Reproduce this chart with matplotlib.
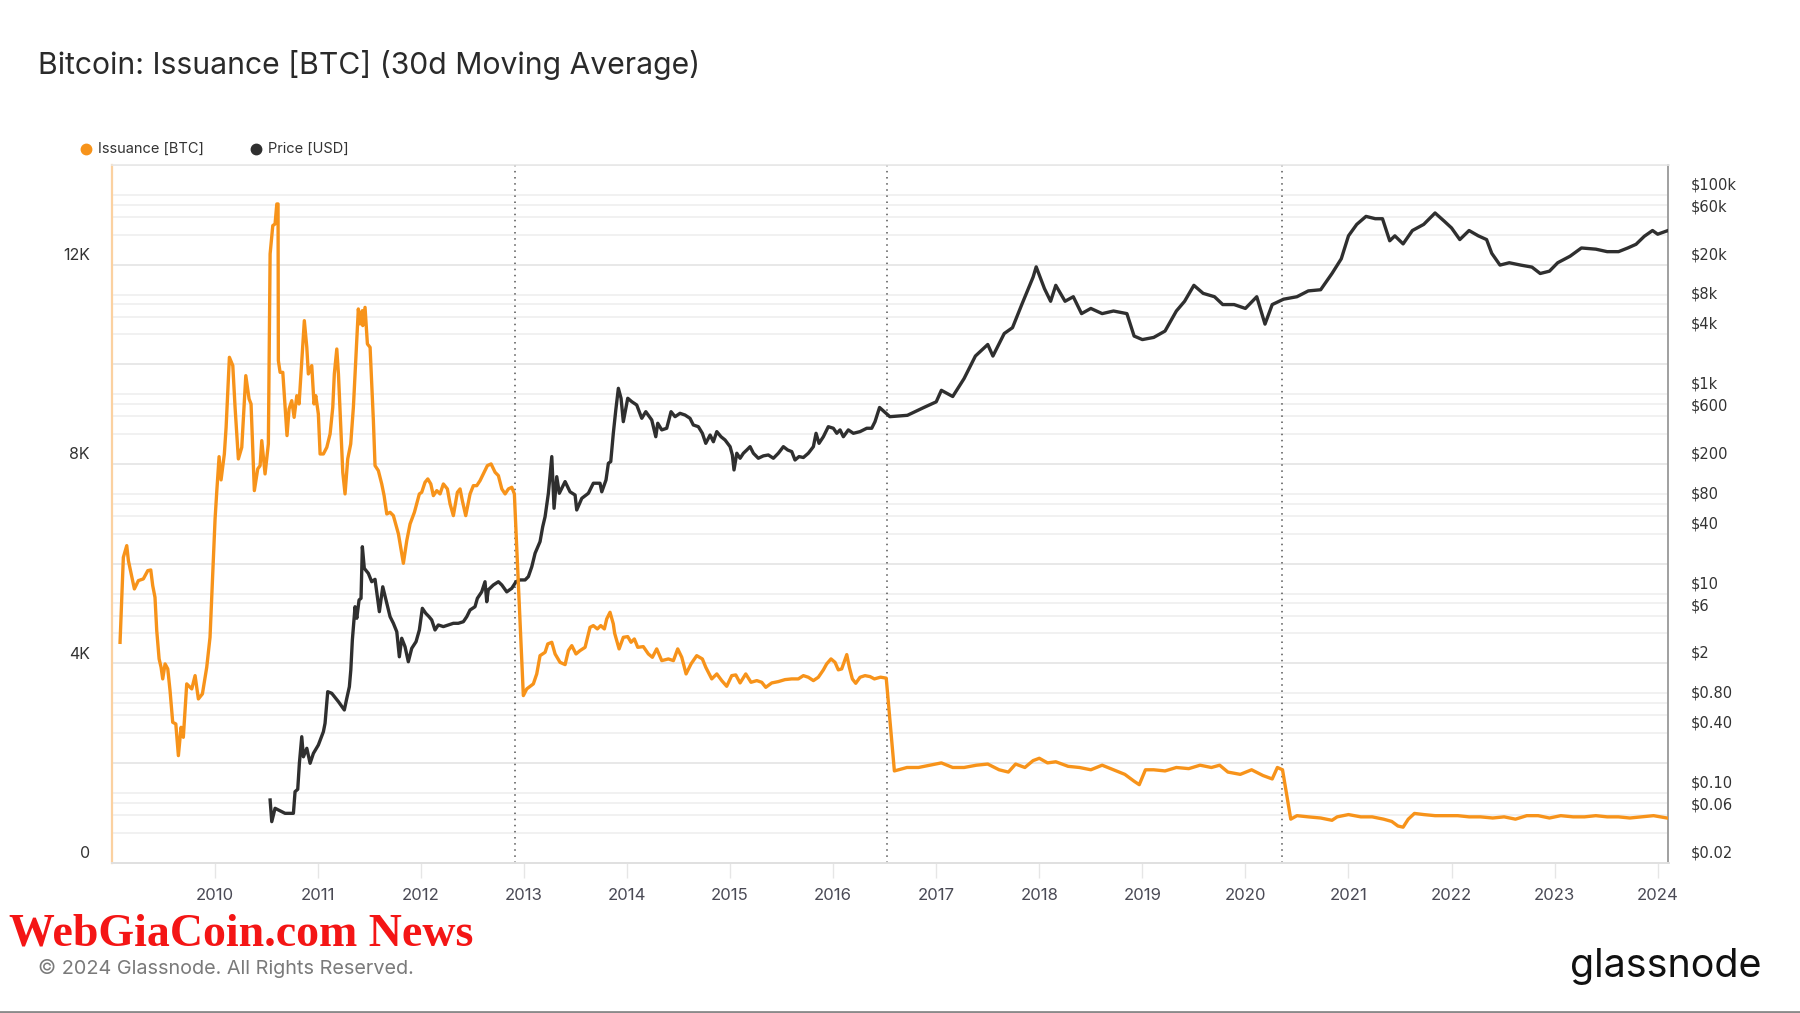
import matplotlib
matplotlib.use("Agg")
import matplotlib.pyplot as plt
import matplotlib.transforms as mtransforms
from matplotlib import font_manager
from matplotlib.lines import Line2D
import numpy as np
import pandas as pd

plt.rcParams["font.family"] = ["Inter", "DejaVu Sans"]

# ---- data (decimal years) ----
ISSUANCE_T = [
    2009.081, 2009.113, 2009.146, 2009.162, 2009.22, 2009.259, 2009.307, 2009.35, 2009.379, 2009.398,
    2009.42, 2009.437, 2009.46, 2009.479, 2009.495, 2009.518, 2009.544, 2009.566, 2009.592, 2009.622,
    2009.647, 2009.673, 2009.695, 2009.728, 2009.777, 2009.809, 2009.841, 2009.88, 2009.922, 2009.954,
    2009.986, 2010.003, 2010.02, 2010.042, 2010.061, 2010.093, 2010.11, 2010.142, 2010.175, 2010.197,
    2010.229, 2010.262, 2010.301, 2010.333, 2010.352, 2010.384, 2010.417, 2010.44, 2010.456, 2010.488,
    2010.52, 2010.537, 2010.563, 2010.585, 2010.602, 2010.614, 2010.617, 2010.634, 2010.66, 2010.682,
    2010.701, 2010.721, 2010.747, 2010.77, 2010.796, 2010.818, 2010.844, 2010.869, 2010.893, 2010.908,
    2010.941, 2010.963, 2010.98, 2011.005, 2011.022, 2011.054, 2011.087, 2011.119, 2011.145, 2011.16,
    2011.184, 2011.2, 2011.225, 2011.242, 2011.264, 2011.29, 2011.319, 2011.345, 2011.361, 2011.393,
    2011.41, 2011.432, 2011.436, 2011.458, 2011.481, 2011.507, 2011.539, 2011.555, 2011.587, 2011.62,
    2011.643, 2011.669, 2011.701, 2011.733, 2011.782, 2011.83, 2011.863, 2011.895, 2011.937, 2011.985,
    2012.008, 2012.04, 2012.067, 2012.096, 2012.121, 2012.154, 2012.186, 2012.218, 2012.257, 2012.283,
    2012.315, 2012.354, 2012.38, 2012.402, 2012.435, 2012.477, 2012.509, 2012.542, 2012.574, 2012.606,
    2012.645, 2012.681, 2012.72, 2012.752, 2012.785, 2012.817, 2012.849, 2012.882, 2012.907, 2012.914,
    2012.994, 2013.027, 2013.091, 2013.124, 2013.156, 2013.205, 2013.231, 2013.27, 2013.302, 2013.35,
    2013.399, 2013.431, 2013.464, 2013.505, 2013.544, 2013.593, 2013.641, 2013.673, 2013.712, 2013.745,
    2013.78, 2013.803, 2013.835, 2013.867, 2013.88, 2013.923, 2013.964, 2014.007, 2014.039, 2014.071,
    2014.104, 2014.158, 2014.207, 2014.246, 2014.288, 2014.337, 2014.401, 2014.45, 2014.492, 2014.531,
    2014.573, 2014.621, 2014.676, 2014.731, 2014.764, 2014.822, 2014.871, 2014.919, 2014.967, 2015.016,
    2015.055, 2015.097, 2015.152, 2015.203, 2015.259, 2015.307, 2015.346, 2015.404, 2015.468, 2015.533,
    2015.598, 2015.662, 2015.711, 2015.759, 2015.808, 2015.856, 2015.905, 2015.937, 2015.979, 2016.018,
    2016.05, 2016.083, 2016.132, 2016.157, 2016.186, 2016.219, 2016.261, 2016.309, 2016.358, 2016.4,
    2016.46, 2016.515, 2016.594, 2016.716, 2016.828, 2016.94, 2017.05, 2017.16, 2017.27, 2017.39,
    2017.5, 2017.61, 2017.7, 2017.77, 2017.86, 2017.94, 2018.0, 2018.08, 2018.16, 2018.28,
    2018.39, 2018.5, 2018.61, 2018.72, 2018.83, 2018.92, 2018.97, 2019.03, 2019.11, 2019.22,
    2019.33, 2019.45, 2019.56, 2019.67, 2019.75, 2019.83, 2019.95, 2020.06, 2020.17, 2020.26,
    2020.31, 2020.36, 2020.44, 2020.5, 2020.61, 2020.73, 2020.84, 2020.89, 2021.0, 2021.12,
    2021.23, 2021.34, 2021.42, 2021.48, 2021.53, 2021.58, 2021.64, 2021.73, 2021.84, 2021.95,
    2022.06, 2022.17, 2022.28, 2022.4, 2022.51, 2022.62, 2022.73, 2022.84, 2022.95, 2023.06,
    2023.18, 2023.29, 2023.4, 2023.51, 2023.62, 2023.73, 2023.84, 2023.96, 2024.09,
]
ISSUANCE_BTC = [
    4419, 6125, 6360, 6059, 5491, 5658, 5692, 5858, 5872, 5557,
    5323, 4654, 4086, 3918, 3685, 3986, 3886, 3450, 2814, 2781,
    2145, 2714, 2513, 3585, 3484, 3751, 3283, 3384, 3918, 4520,
    6059, 6896, 7464, 8146, 7679, 8200, 8734, 10140, 9973, 9136,
    8100, 8333, 9772, 9305, 9204, 7464, 7900, 7966, 8468, 7799,
    8401, 12215, 12783, 12817, 13218, 13218, 10073, 9838, 9838, 9170,
    8568, 9103, 9270, 8935, 9370, 9204, 10073, 10876, 10340, 9806,
    9973, 9204, 9370, 9003, 8200, 8200, 8333, 8602, 9136, 9806,
    10307, 9806, 8602, 7832, 7398, 8100, 8401, 9136, 9806, 11111,
    10810, 11077, 10776, 11143, 10408, 10340, 8869, 7966, 7866, 7598,
    7364, 6996, 7029, 6962, 6595, 6005, 6461, 6796, 7029, 7398,
    7430, 7631, 7699, 7598, 7364, 7464, 7398, 7598, 7498, 7197,
    6962, 7430, 7498, 7263, 6962, 7398, 7564, 7564, 7665, 7799,
    7966, 8000, 7832, 7765, 7498, 7398, 7498, 7531, 7398, 7063,
    3350, 3484, 3585, 3785, 4152, 4219, 4387, 4420, 4186, 4018,
    3972, 4253, 4353, 4186, 4253, 4319, 4720, 4755, 4688, 4755,
    4688, 4889, 5022, 4789, 4600, 4287, 4520, 4534, 4420, 4487,
    4319, 4333, 4186, 4119, 4287, 4052, 4086, 4052, 4287, 4119,
    3785, 3986, 4152, 4086, 3918, 3685, 3785, 3651, 3537, 3751,
    3765, 3604, 3785, 3617, 3651, 3617, 3516, 3604, 3631, 3671,
    3685, 3685, 3751, 3718, 3651, 3718, 3866, 3986, 4086, 4018,
    3866, 3886, 4173, 3918, 3685, 3597, 3718, 3751, 3731, 3685,
    3720, 3700, 1838, 1907, 1907, 1953, 1999, 1907, 1907, 1953,
    1976, 1861, 1815, 1976, 1907, 2045, 2092, 1999, 2022, 1930,
    1907, 1861, 1953, 1861, 1769, 1631, 1562, 1861, 1861, 1838,
    1907, 1884, 1953, 1907, 1953, 1815, 1769, 1861, 1746, 1677,
    1907, 1861, 870, 940, 916, 893, 847, 916, 962, 916,
    916, 870, 824, 732, 709, 870, 985, 962, 940, 940,
    940, 916, 916, 893, 916, 870, 940, 940, 893, 940,
    916, 916, 940, 916, 916, 893, 916, 940, 893,
]

PRICE_T = [
    2010.537, 2010.553, 2010.585, 2010.617, 2010.682, 2010.763, 2010.779, 2010.805, 2010.821, 2010.844,
    2010.86, 2010.893, 2010.925, 2010.957, 2011.005, 2011.054, 2011.07, 2011.096, 2011.135, 2011.2,
    2011.257, 2011.281, 2011.306, 2011.32, 2011.335, 2011.361, 2011.378, 2011.4, 2011.419, 2011.432,
    2011.451, 2011.49, 2011.523, 2011.555, 2011.597, 2011.63, 2011.669, 2011.701, 2011.733, 2011.766,
    2011.791, 2011.814, 2011.846, 2011.878, 2011.911, 2011.953, 2011.985, 2012.014, 2012.047, 2012.079,
    2012.105, 2012.137, 2012.169, 2012.218, 2012.266, 2012.315, 2012.363, 2012.412, 2012.445, 2012.477,
    2012.525, 2012.548, 2012.59, 2012.622, 2012.639, 2012.654, 2012.703, 2012.752, 2012.785, 2012.833,
    2012.882, 2012.923, 2012.962, 2013.011, 2013.043, 2013.076, 2013.108, 2013.156, 2013.182, 2013.205,
    2013.237, 2013.27, 2013.292, 2013.318, 2013.343, 2013.399, 2013.447, 2013.496, 2013.512, 2013.561,
    2013.625, 2013.673, 2013.738, 2013.755, 2013.796, 2013.819, 2013.842, 2013.867, 2013.891, 2013.916,
    2013.942, 2013.964, 2014.007, 2014.046, 2014.094, 2014.143, 2014.182, 2014.24, 2014.279, 2014.298,
    2014.337, 2014.385, 2014.427, 2014.466, 2014.514, 2014.563, 2014.611, 2014.643, 2014.692, 2014.731,
    2014.764, 2014.806, 2014.838, 2014.871, 2014.912, 2014.951, 2015.0, 2015.022, 2015.038, 2015.065,
    2015.097, 2015.129, 2015.162, 2015.194, 2015.226, 2015.274, 2015.323, 2015.371, 2015.42, 2015.468,
    2015.517, 2015.559, 2015.598, 2015.63, 2015.669, 2015.711, 2015.759, 2015.808, 2015.834, 2015.863,
    2015.905, 2015.953, 2016.002, 2016.035, 2016.067, 2016.099, 2016.147, 2016.196, 2016.261, 2016.326,
    2016.374, 2016.406, 2016.45, 2016.55, 2016.72, 2016.88, 2017.0, 2017.05, 2017.16, 2017.27,
    2017.38, 2017.5, 2017.55, 2017.66, 2017.74, 2017.83, 2017.94, 2017.97, 2018.05, 2018.11,
    2018.16, 2018.25, 2018.33, 2018.41, 2018.5, 2018.61, 2018.72, 2018.85, 2018.92, 2019.0,
    2019.11, 2019.22, 2019.33, 2019.41, 2019.5, 2019.59, 2019.7, 2019.78, 2019.89, 2020.0,
    2020.11, 2020.19, 2020.26, 2020.37, 2020.5, 2020.61, 2020.73, 2020.84, 2020.93, 2021.0,
    2021.08, 2021.17, 2021.26, 2021.33, 2021.4, 2021.45, 2021.53, 2021.62, 2021.73, 2021.84,
    2021.93, 2022.0, 2022.08, 2022.17, 2022.26, 2022.34, 2022.39, 2022.47, 2022.56, 2022.67,
    2022.78, 2022.86, 2022.95, 2023.03, 2023.15, 2023.26, 2023.4, 2023.51, 2023.62, 2023.71,
    2023.79, 2023.87, 2023.95, 2024.0, 2024.1,
]
PRICE_USD = [
    0.0848, 0.0514, 0.07, 0.0673, 0.0623, 0.0623, 0.1027, 0.1086, 0.198, 0.366,
    0.23, 0.28, 0.198, 0.249, 0.302, 0.411, 0.499, 1.036, 0.998, 0.822,
    0.679, 0.889, 1.162, 1.71, 3.42, 7.38, 5.65, 8.62, 8.96, 29.5,
    17.9, 15.96, 13.15, 13.9, 6.58, 11.7, 7.98, 5.86, 5.03, 4.14,
    2.32, 3.56, 2.93, 2.07, 2.82, 3.29, 4.31, 7.11, 6.34, 5.86,
    5.43, 4.31, 4.84, 4.66, 4.84, 5.03, 5.03, 5.22, 5.86, 6.84,
    7.38, 8.96, 10.4, 13.15, 8.28, 10.9, 12.2, 13.15, 12.2, 10.4,
    11.3, 13.15, 13.7, 13.7, 14.8, 18.6, 25.4, 33.2, 46.9, 59.1,
    101.5, 237, 71.8, 149, 101.5, 133, 105, 97.5, 69, 90.3,
    101.5, 128, 128, 105, 138, 203, 211, 406, 695, 1148,
    912, 531, 912, 843, 781, 574, 669, 552, 375, 512,
    439, 456, 669, 596, 644, 619, 574, 492, 473, 406,
    322, 390, 334, 422, 375, 348, 298, 246, 174, 256,
    228, 256, 276, 298, 256, 228, 241, 246, 228, 256,
    298, 276, 266, 219, 237, 232, 256, 298, 406, 322,
    375, 473, 456, 406, 439, 375, 439, 406, 422, 456,
    456, 531, 737, 596, 615, 737, 840, 1096, 950, 1437,
    2420, 3160, 2420, 4074, 4660, 7950, 15000, 19000, 11500, 8580,
    12400, 8580, 9530, 6450, 7270, 6450, 6850, 6450, 3840, 3540,
    3720, 4310, 6850, 8580, 12400, 10300, 9530, 7950, 7950, 7270,
    9530, 5060, 7950, 9000, 9530, 10900, 11200, 16300, 22900, 38900,
    50700, 61000, 57800, 57800, 34700, 38900, 32300, 44000, 50700, 66000,
    54500, 46700, 35700, 44000, 38900, 35700, 26000, 19800, 20900, 19800,
    18900, 16300, 17200, 20900, 24300, 29400, 28600, 27000, 27000, 29400,
    32000, 38500, 44000, 40400, 44000,
]

HALVING_DATES = ["2012-11-28", "2016-07-09", "2020-05-11"]
YEAR_TICKS = list(range(2010, 2025))

ISSUANCE_TICKS = [0, 4000, 8000, 12000]
ISSUANCE_TICK_LABELS = ["0", "4K", "8K", "12K"]
ISSUANCE_GRID = [0, 2000, 4000, 6000, 8000, 10000, 12000, 14000]

PRICE_TICKS = [100000, 60000, 20000, 8000, 4000, 1000, 600, 200, 80, 40, 10, 6, 2,
               0.8, 0.4, 0.1, 0.06, 0.02]
PRICE_TICK_LABELS = ["$100k", "$60k", "$20k", "$8k", "$4k", "$1k", "$600", "$200", "$80",
                     "$40", "$10", "$6", "$2", "$0.80", "$0.40", "$0.10", "$0.06", "$0.02"]
PRICE_GRID_MANTISSA = [1, 4, 6, 8]


def to_decimal_year(s):
    d = pd.Timestamp(s)
    return d.year + (d.dayofyear - 1) / 365.25


ORANGE = "#f7931a"
DARK = "#2f2f2f"

W, H = 1800, 1013
fig = plt.figure(figsize=(W / 100, H / 100), dpi=100)
fig.patch.set_facecolor("white")

left, right, top, bottom = 111.7, 1668.5, 165, 862.5
ax = fig.add_axes([left / W, 1 - bottom / H, (right - left) / W, (bottom - top) / H])
ax2 = ax.twinx()

# price axis (bottom layer, log)
ax.set_yscale("log")
ax.set_ylim(0.02, 200000)
ax.set_xlim(2009.0, 2024.105)
ax2.set_ylim(0, 14000)

# gridlines, all drawn on the bottom axes
grid_vals = [m * 10.0 ** e for e in range(-2, 6) for m in PRICE_GRID_MANTISSA]
grid_vals = [g for g in grid_vals if 0.02 < g < 200000]
ax.hlines(grid_vals, 0, 1, transform=ax.get_yaxis_transform(), color="#efefef", lw=1.2, zorder=0)
iss_trans = mtransforms.blended_transform_factory(ax.transAxes, ax2.transData)
ax.hlines(ISSUANCE_GRID, 0, 1, transform=iss_trans, color="#e6e6e6", lw=1.3, zorder=0)

halvings = [to_decimal_year(s) for s in HALVING_DATES]
ax.vlines(halvings, 0, 1, transform=ax.get_xaxis_transform(), color="#555555",
          lw=1.1, linestyles=(0, (1, 3)), zorder=1)

ax.plot(PRICE_T, PRICE_USD, color=DARK, lw=2.4, solid_joinstyle="round", zorder=3)
ax2.plot(ISSUANCE_T, ISSUANCE_BTC, color=ORANGE, lw=2.4, solid_joinstyle="round", zorder=3)

# axes styling
for a in (ax, ax2):
    a.tick_params(axis="y", which="both", left=False, right=False, labelleft=False, labelright=False)
    a.yaxis.set_minor_locator(matplotlib.ticker.NullLocator())
    a.set_yticks([])
for sp in ax2.spines.values():
    sp.set_visible(False)
ax.spines["left"].set_color("#fbd1a0")
ax.spines["left"].set_linewidth(1.6)
ax.spines["right"].set_color("#a0a0a0")
ax.spines["right"].set_linewidth(1.4)
ax.spines["top"].set_color("#e8e8e8")
ax.spines["top"].set_linewidth(1.2)
ax.spines["bottom"].set_color("#e0e0e0")
ax.spines["bottom"].set_linewidth(1.4)

ax.set_xticks(YEAR_TICKS)
ax.set_xticklabels([str(y) for y in YEAR_TICKS])
ax.tick_params(axis="x", length=11, width=1, color="#e6e6e6", pad=7,
               labelsize=12, labelcolor="#4a4a55")

# y tick labels sit slightly above their gridlines
left_lab = mtransforms.offset_copy(iss_trans, fig=fig, x=-22, y=9, units="dots")
for v, lab in zip(ISSUANCE_TICKS, ISSUANCE_TICK_LABELS):
    ax.text(0, v, lab, transform=left_lab, ha="right", va="center", fontsize=11.5, color="#333333")

right_lab = mtransforms.offset_copy(ax.get_yaxis_transform(), fig=fig, x=22, y=10, units="dots")
for v, lab in zip(PRICE_TICKS, PRICE_TICK_LABELS):
    ax.text(1, v, lab, transform=right_lab, ha="left", va="center", fontsize=10.5,
            color="#333333", family=["DejaVu Sans"])

# title
title = fig.text(38 / W, 1 - 74 / H, "Bitcoin: Issuance [BTC] (30d Moving Average)", fontsize=20,
                 color="#2a2a2a", ha="left", va="baseline")

# legend
leg_y = 1 - 149 / H
for cx, tx, col, lab in [(86, 97.6, ORANGE, "Issuance [BTC]"), (256, 267.5, DARK, "Price [USD]")]:
    fig.add_artist(Line2D([cx / W], [leg_y], marker="o", markersize=7.5, color=col, lw=0))
    fig.text(tx / W, leg_y, lab, fontsize=10.5, color="#333333", ha="left", va="center")

# watermark
names = {f.name for f in font_manager.fontManager.ttflist}
wm_family = "DejaVu Serif"
for fam in ["DejaVu Serif Condensed", "Liberation Sans Narrow", "Liberation Serif"]:
    if fam in names:
        wm_family = fam
        break
wm = fig.text(9 / W, 1 - 945 / H, "WebGiaCoin.com News", fontsize=34, fontweight="bold",
              color="#f41515", ha="left", va="baseline", family=[wm_family])

footer = fig.text(38 / W, 1 - 974 / H, "\u00a9 2024 Glassnode. All Rights Reserved.", fontsize=13,
                  color="#7a7a7a", ha="left", va="baseline")

logo = fig.text(1570 / W, 1 - 977 / H, "glassnode", fontsize=28, color="#111111",
                ha="left", va="baseline", family=["Inter", "DejaVu Sans"])

# fit a few texts to their measured widths
fig.canvas.draw()
for t, target in [(title, 662), (wm, 464), (footer, 376), (logo, 192)]:
    w = t.get_window_extent().width
    t.set_fontsize(t.get_fontsize() * target / w)

fig.add_artist(Line2D([0, 1], [0.001, 0.001], color="#8a8a8a", lw=2))

fig.savefig("out.png", dpi=100)
